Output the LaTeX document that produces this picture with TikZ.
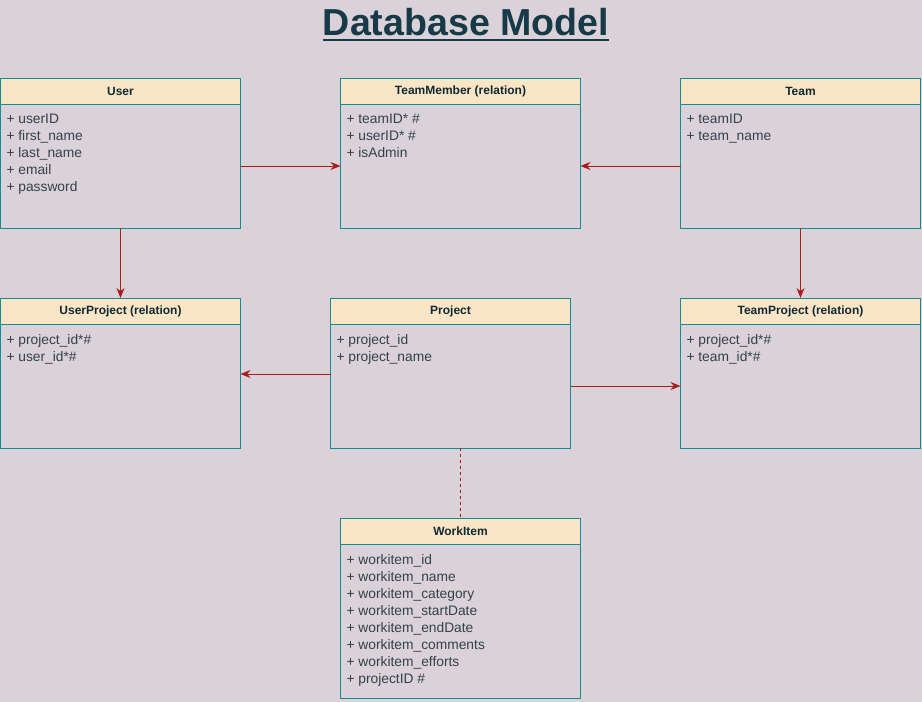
\documentclass[tikz,border=0pt]{standalone}
\usepackage{fontspec}
\setmainfont{Liberation Sans}
\usetikzlibrary{arrows.meta,positioning}
\definecolor{bgmauve}{RGB}{219,210,217}
\definecolor{hdrfill}{RGB}{251,229,199}
\definecolor{edgeteal}{RGB}{16,142,145}
\definecolor{relred}{RGB}{168,28,28}
\definecolor{titleink}{RGB}{22,58,72}
\definecolor{attrink}{RGB}{52,64,74}
\tikzset{
    hdr/.style={rectangle, draw=edgeteal, fill=hdrfill, line width=1pt,
                minimum width=240pt, minimum height=26pt, inner sep=0pt, outer sep=0pt,
                text=titleink!70!black, font=\fontsize{12}{14}\selectfont\bfseries},
    body/.style={rectangle, draw=edgeteal, line width=1pt, minimum width=240pt,
                 inner xsep=6pt, inner ysep=10pt, outer sep=0pt, text=attrink,
                 font=\fontsize{13.8}{17}\selectfont},
    arr/.style={-{Stealth[length=10pt,width=8pt]}, line width=1pt, relred},
    weak/.style={relred, line width=0.8pt, dash pattern=on 3pt off 3pt},
}
\newcommand{\attrlist}[2]{\parbox[t][#1][t]{228pt}{\raggedright #2}}

\begin{document}
\begin{tikzpicture}[x=1pt, y=1pt, node distance=70pt and 100pt]
    \fill[bgmauve] (0,0) rectangle (922,-702);
    \useasboundingbox (0,0) rectangle (922,-702);

    % title
    \node[inner sep=0pt, anchor=base, text=titleink,
          font=\fontsize{37.6}{40}\selectfont\bfseries] (title) at (466,-35) {Database Model};
    \draw[titleink, line width=2.2pt] ([yshift=-4.8pt]title.base west) -- ([yshift=-4.8pt]title.base east);

    % top row
    \node[hdr, anchor=north west] (userh) at (0.5,-78) {User};
    \node[body, below=0pt of userh] (userb) {\attrlist{104pt}{+ userID\\+ first\_name\\+ last\_name\\+ email\\+ password}};
    \node[hdr, right=100pt of userh] (tmh) {TeamMember (relation)};
    \node[body, below=0pt of tmh] (tmb) {\attrlist{104pt}{+ teamID* \#\\+ userID* \#\\+ isAdmin}};
    \node[hdr, right=100pt of tmh] (teamh) {Team};
    \node[body, below=0pt of teamh] (teamb) {\attrlist{104pt}{+ teamID\\+ team\_name}};

    % middle row
    \node[hdr, below=of userb] (uph) {UserProject (relation)};
    \node[body, below=0pt of uph] (upb) {\attrlist{104pt}{+ project\_id*\#\\+ user\_id*\#}};
    \node[hdr, right=90pt of uph] (projh) {Project};
    \node[body, below=0pt of projh] (projb) {\attrlist{104pt}{+ project\_id\\+ project\_name}};
    \node[hdr, below=of teamb] (tph) {TeamProject (relation)};
    \node[body, below=0pt of tph] (tpb) {\attrlist{104pt}{+ project\_id*\#\\+ team\_id*\#}};

    % bottom
    \node[hdr, below=of projb, xshift=10pt] (wih) {WorkItem};
    \node[body, below=0pt of wih] (wib) {\attrlist{134pt}{+ workitem\_id\\+ workitem\_name\\+ workitem\_category\\+ workitem\_startDate\\+ workitem\_endDate\\+ workitem\_comments\\+ workitem\_efforts\\+ projectID \#}};

    % relations
    \draw[arr] (userb) -- (tmb);
    \draw[arr] (teamb) -- (tmb);
    \draw[arr] (userb) -- (uph);
    \draw[arr] (teamb) -- (tph);
    \draw[arr] ([yshift=12pt]projb.west) -- ([yshift=12pt]upb.east);
    \draw[arr] (projb) -- (tpb);
    \draw[weak] (wih.north |- projb.south) -- (wih.north);
\end{tikzpicture}
\end{document}
